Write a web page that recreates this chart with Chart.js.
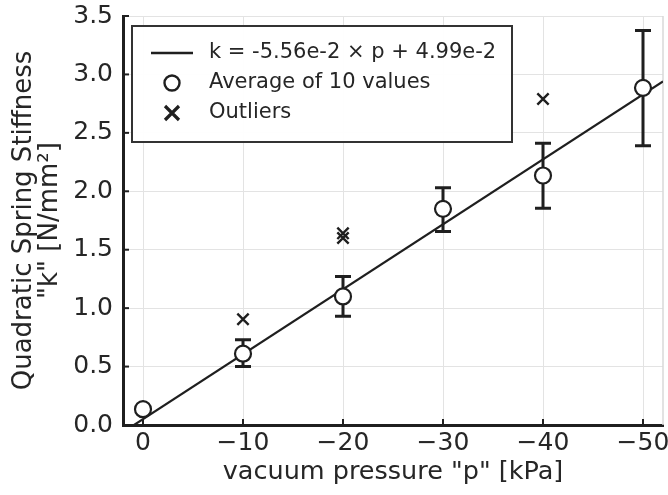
<!DOCTYPE html>
<html>
<head>
<meta charset="utf-8">
<script src="https://cdn.jsdelivr.net/npm/chart.js@4/dist/chart.umd.min.js"></script>
<style>
  html, body { margin: 0; padding: 0; background: #fff; }
  #wrap { width: 668px; height: 495px; position: relative; }
</style>
</head>
<body>
<div id="wrap"><canvas id="c" width="668" height="495"></canvas></div>
<script>
// ---- data ----
const pressures = [0, -10, -20, -30, -40, -50];          // kPa
const avgK      = [0.135, 0.61, 1.10, 1.85, 2.135, 2.885]; // N/mm^2
const errUpper  = [null, 0.73, 1.27, 2.03, 2.41, 3.375];
const errLower  = [null, 0.50, 0.93, 1.655, 1.855, 2.39];
const outlierP  = [-10, -20, -20, -40];
const outlierK  = [0.905, 1.64, 1.60, 2.79];
const fitP      = [2, -52];
const fitK      = [-0.061, 2.941];
const xTicks    = [0, -10, -20, -30, -40, -50];
const legendLabels = ['k = -5.56e-2 \u00d7 p + 4.99e-2', 'Average of 10 values', 'Outliers'];

const INK = '#1f1f1f';
const TXT = '#262626';
const FONT = '"DejaVu Sans", sans-serif';

const avgData = pressures.map((p, i) => ({ x: p, y: avgK[i] }));
const outData = outlierP.map((p, i) => ({ x: p, y: outlierK[i] }));
const fitData = fitP.map((p, i) => ({ x: p, y: fitK[i] }));

const decor = {
  id: 'decor',
  beforeDatasetsDraw(chart) {
    const { ctx, chartArea: a, scales: { x, y } } = chart;
    ctx.save();
    ctx.strokeStyle = '#d9d9d9';
    ctx.lineWidth = 1.5;
    ctx.beginPath();
    ctx.moveTo(a.right, a.top); ctx.lineTo(a.right, a.bottom);
    ctx.stroke();
    ctx.strokeStyle = INK;
    ctx.lineWidth = 2;
    x.ticks.forEach(t => {
      const px = x.getPixelForValue(t.value);
      ctx.beginPath(); ctx.moveTo(px, a.bottom); ctx.lineTo(px, a.bottom - 6); ctx.stroke();
    });
    y.ticks.forEach(t => {
      const py = y.getPixelForValue(t.value);
      ctx.beginPath(); ctx.moveTo(a.left, py); ctx.lineTo(a.left + 6, py); ctx.stroke();
    });
    ctx.lineWidth = 3;
    ctx.strokeStyle = INK;
    pressures.forEach((p, i) => {
      if (errUpper[i] == null) return;
      const px = x.getPixelForValue(p);
      const pt = y.getPixelForValue(errUpper[i]);
      const pb = y.getPixelForValue(errLower[i]);
      ctx.beginPath();
      ctx.moveTo(px, pt); ctx.lineTo(px, pb);
      ctx.moveTo(px - 8, pt); ctx.lineTo(px + 8, pt);
      ctx.moveTo(px - 8, pb); ctx.lineTo(px + 8, pb);
      ctx.stroke();
    });
    ctx.restore();
  },
  afterDraw(chart) {
    const { ctx, chartArea: a } = chart;
    ctx.save();
    const bx = a.left + 9, by = a.top + 10, bw = 380, bh = 116;
    ctx.fillStyle = 'rgba(255,255,255,0.95)';
    ctx.fillRect(bx, by, bw, bh);
    ctx.strokeStyle = '#333';
    ctx.lineWidth = 2;
    ctx.strokeRect(bx, by, bw, bh);
    const rows = [by + 27, by + 57, by + 87];
    const sx = bx + 40, tx = bx + 77;
    ctx.strokeStyle = INK; ctx.lineWidth = 2.5;
    ctx.beginPath(); ctx.moveTo(sx - 21, rows[0]); ctx.lineTo(sx + 21, rows[0]); ctx.stroke();
    ctx.lineWidth = 2.4; ctx.fillStyle = '#fff';
    ctx.beginPath(); ctx.arc(sx, rows[1], 7.5, 0, Math.PI * 2); ctx.fill(); ctx.stroke();
    ctx.lineWidth = 3.2;
    const d = 7;
    ctx.beginPath();
    ctx.moveTo(sx - d, rows[2] - d); ctx.lineTo(sx + d, rows[2] + d);
    ctx.moveTo(sx + d, rows[2] - d); ctx.lineTo(sx - d, rows[2] + d);
    ctx.stroke();
    ctx.fillStyle = TXT;
    ctx.font = '21px ' + FONT;
    ctx.textBaseline = 'middle';
    ctx.textAlign = 'left';
    legendLabels.forEach((s, i) => ctx.fillText(s, tx, rows[i]));
    ctx.restore();
  }
};

new Chart(document.getElementById('c'), {
  type: 'scatter',
  data: {
    datasets: [
      { label: legendLabels[1], data: avgData, pointStyle: 'circle', pointRadius: 8, pointHoverRadius: 8,
        backgroundColor: '#fff', borderColor: INK, borderWidth: 2.2, showLine: false },
      { label: legendLabels[2], data: outData, pointStyle: 'crossRot', pointRadius: 8, pointHoverRadius: 8,
        backgroundColor: INK, borderColor: INK, borderWidth: 2.4, showLine: false },
      { label: legendLabels[0], data: fitData, type: 'line', showLine: true, pointRadius: 0,
        borderColor: INK, borderWidth: 2.2, fill: false }
    ]
  },
  options: {
    responsive: false,
    animation: false,
    events: [],
    layout: { autoPadding: false, padding: { top: 16, right: 5, left: 0, bottom: 0 } },
    plugins: { legend: { display: false }, tooltip: { enabled: false } },
    scales: {
      x: {
        type: 'linear', reverse: true, min: -52, max: 2,
        afterBuildTicks: s => { s.ticks = xTicks.map(v => ({ value: v })); },
        afterFit: s => { s.height = 70; s.paddingLeft = 0; s.paddingRight = 0; },
        grid: { color: '#e3e3e3', lineWidth: 1, drawTicks: false },
        border: { color: INK, width: 3 },
        ticks: { color: TXT, font: { family: FONT, size: 25 }, padding: 3,
          callback: v => (v < 0 ? '\u2212' + Math.abs(v) : String(v)), maxRotation: 0 },
        title: { display: true, text: 'vacuum pressure "p" [kPa]', color: TXT,
          font: { family: FONT, size: 25.5 }, padding: { top: 0, bottom: 7 } }
      },
      y: {
        type: 'linear', min: 0, max: 3.5,
        afterFit: s => { s.width = 123; s.paddingTop = 0; s.paddingBottom = 0; },
        grid: { color: '#e3e3e3', lineWidth: 1, drawTicks: false },
        border: { color: INK, width: 3 },
        ticks: { stepSize: 0.5, color: TXT, font: { family: FONT, size: 25 }, padding: 10,
          callback: v => v.toFixed(1) },
        title: { display: true, text: ['Quadratic Spring Stiffness', '"k" [N/mm\u00b2]'], color: TXT,
          font: { family: FONT, size: 26, lineHeight: 1.0 }, padding: { top: 11, bottom: 0 } }
      }
    }
  },
  plugins: [decor]
});
</script>
</body>
</html>
